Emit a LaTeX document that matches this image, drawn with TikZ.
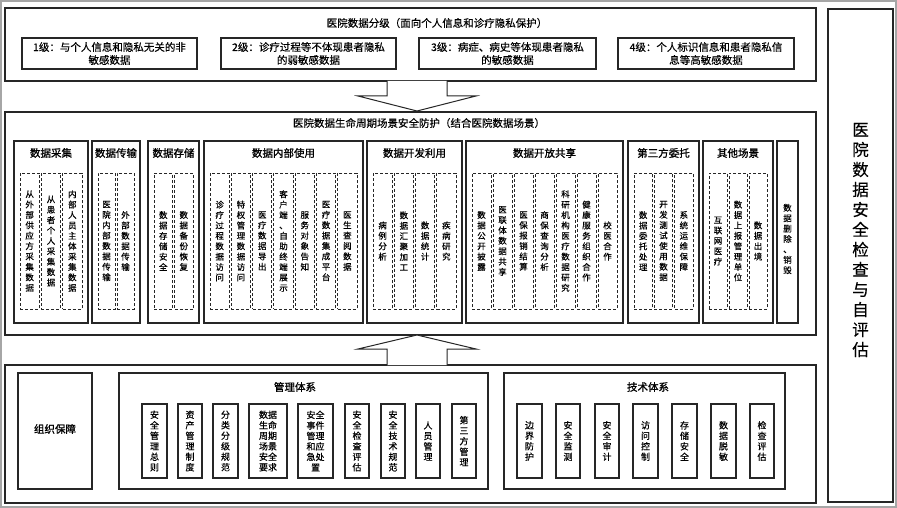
\documentclass[tikz,border=0pt]{standalone}
\usepackage{fontspec}
\setmainfont{Noto Sans CJK SC}[FakeBold=0.3]
\newfontfamily\cjkbold{Noto Sans CJK SC}[FakeBold=1.2]
\makeatletter
\def\vst#1{\gdef\vst@out{}\expandafter\vst@a#1\@nil\vst@out}
\def\vst@a#1#2\@nil{\g@addto@macro\vst@out{#1}\ifx\relax#2\relax\else\g@addto@macro\vst@out{\\}\vst@a#2\@nil\fi}
\makeatother
\tikzset{
  solidbox/.style={draw=black!85, line width=1.15pt, fill=white, inner sep=0pt},
  dashbox/.style={draw=black!85, line width=0.9pt, dash pattern=on 3pt off 2pt, inner sep=0pt},
  titletext/.style={font=\fontsize{10.5}{13}\selectfont, inner sep=0pt, align=center},
  cattitle/.style={font=\cjkbold\fontsize{10.5}{12}\selectfont, inner sep=0pt},
  vtext/.style={font=\fontsize{8.5}{10.4}\selectfont, align=center, inner sep=0pt},
  itemtext/.style={font=\fontsize{9}{10.5}\selectfont, align=center, inner sep=0pt},
  sidetext/.style={font=\fontsize{16.5}{20}\selectfont, align=center, inner sep=0pt},
  bigarrow/.style={draw=black!85, line width=1pt, fill=white, line join=miter}
}
\newcommand\rbox[6]{\node[#6, minimum width={(#4-#2)*1pt}, minimum height={(#5-#3)*1pt}] (#1) at ({(#2+#4)/2},{(#3+#5)/2}) {};}
\newcommand\category[6]{%
  \rbox{c#1}{#2}{141}{#3}{323}{solidbox}
  \node[cattitle] (c#1t) at ({(#2+#3)/2},153) {#5};
  \pgfmathsetmacro\da{#2+6}
  \pgfmathsetmacro\dw{((#3-#2-12)-(#4-1)*2)/#4}
  \foreach \t [count=\i] in {#6} {
    \pgfmathsetmacro\cx{\da+(\i-1)*(\dw+2)+\dw/2}
    \node[dashbox, vtext, minimum width={\dw*1pt}, minimum height=136pt] (c#1d\i) at (\cx,241) {\vst{\t}};
  }
}
\newcommand\mitem[4]{\node[solidbox, itemtext, minimum width={(#3-#2)*1pt}, minimum height=74pt] (#1) at ({(#2+#3)/2},441) {#4};}
\begin{document}
\begin{tikzpicture}[x=1pt,y=-1pt]
\useasboundingbox (0,0) rectangle (897,508);
\draw[black!35, line width=1.5pt] (1,1) rectangle (896,507);

% top section
\rbox{top}{5}{8}{816}{81}{solidbox}
\node[titletext] (toptitle) at (437,23) {医院数据分级（面向个人信息和诊疗隐私保护）};
\node[solidbox, titletext, minimum width=175pt, minimum height=31pt] (l1) at (109.5,53.5) {1级：与个人信息和隐私无关的非\\敏感数据};
\node[solidbox, titletext, minimum width=175pt, minimum height=31pt] (l2) at (308.5,53.5) {2级：诊疗过程等不体现患者隐私\\的弱敏感数据};
\node[solidbox, titletext, minimum width=177pt, minimum height=31pt] (l3) at (507.5,53.5) {3级：病症、病史等体现患者隐私\\的敏感数据};
\node[solidbox, titletext, minimum width=176pt, minimum height=31pt] (l4) at (706,53.5) {4级：个人标识信息和患者隐私信\\息等高敏感数据};

% middle section
\rbox{mid}{5}{112}{816}{335}{solidbox}
\node[titletext] (midtitle) at (419,123) {医院数据生命周期场景安全防护（结合医院数据场景）};
\category{1}{14}{88}{3}{数据采集}{从外部供应方采集数据,从患者个人采集数据,内部人员主体采集数据}
\category{2}{92}{140}{2}{数据传输}{医院内部数据传输,外部数据传输}
\category{3}{148}{199}{2}{数据存储}{数据存储安全,数据备份恢复}
\category{4}{204}{363}{7}{数据内部使用}{诊疗过程数据访问,特权管理数据访问,医疗数据导出,客户端、自助终端展示,服务对象告知,医疗数据集成平台,医生查阅数据}
\category{5}{367}{462}{4}{数据开发利用}{病例分析,数据汇聚加工,数据统计,疾病研究}
\category{6}{466}{623}{7}{数据开放共享}{数据公开披露,医联体数据共享,医保报销结算,商保查询分析,科研机构医疗数据研究,健康服务组织合作,校医合作}
\category{7}{628}{699}{3}{第三方委托}{数据委托处理,开发测试使用数据,系统运维保障}
\category{8}{703}{773}{3}{其他场景}{互联网医疗,数据上报管理单位,数据出境}
\rbox{cdel}{777}{141}{798}{323}{solidbox}
\node[vtext] (cdeltext) at (787.5,239) {\vst{数据删除、销毁}};

% bottom section
\rbox{bot}{5}{365}{816}{503}{solidbox}
\rbox{org}{18}{373}{92}{489}{solidbox}
\node[cattitle] (orgtext) at (55,429) {组织保障};
\rbox{mgmt}{119}{373}{488}{489}{solidbox}
\node[cattitle] (mgmttitle) at (295,387) {管理体系};
\mitem{m1}{142}{167}{\vst{安全管理总则}}
\mitem{m2}{178}{202}{\vst{资产管理制度}}
\mitem{m3}{213}{238}{\vst{分类分级规范}}
\mitem{m4}{249}{287}{数据\\生命\\周期\\场景\\安全\\要求}
\mitem{m5}{298}{333}{安全\\事件\\管理\\和应\\急处\\置}
\mitem{m6}{345}{369}{\vst{安全检查评估}}
\mitem{m7}{381}{405}{\vst{安全技术规范}}
\mitem{m8}{416}{440}{\vst{人员管理}}
\mitem{m9}{452}{476}{\vst{第三方管理}}
\rbox{tech}{504}{373}{785}{489}{solidbox}
\node[cattitle] (techtitle) at (648,387) {技术体系};
\mitem{t1}{517}{542}{\vst{边界防护}}
\mitem{t2}{556}{580}{\vst{安全监测}}
\mitem{t3}{595}{619}{\vst{安全审计}}
\mitem{t4}{633}{658}{\vst{访问控制}}
\mitem{t5}{672}{697}{\vst{存储安全}}
\mitem{t6}{711}{736}{\vst{数据脱敏}}
\mitem{t7}{750}{774}{\vst{检查评估}}

% side box
\rbox{side}{828}{9}{893}{502}{solidbox}
\node[sidetext] (sidetext) at (860.5,240) {\vst{医院数据安全检查与自评估}};

% block arrows
\draw[bigarrow] (387,81) -- (387,96) -- (358,96) -- (417,111) -- (476,96) -- (447,96) -- (447,81);
\draw[bigarrow] (387,365) -- (387,349) -- (358,349) -- (417,335) -- (476,349) -- (447,349) -- (447,365);
\end{tikzpicture}
\end{document}
